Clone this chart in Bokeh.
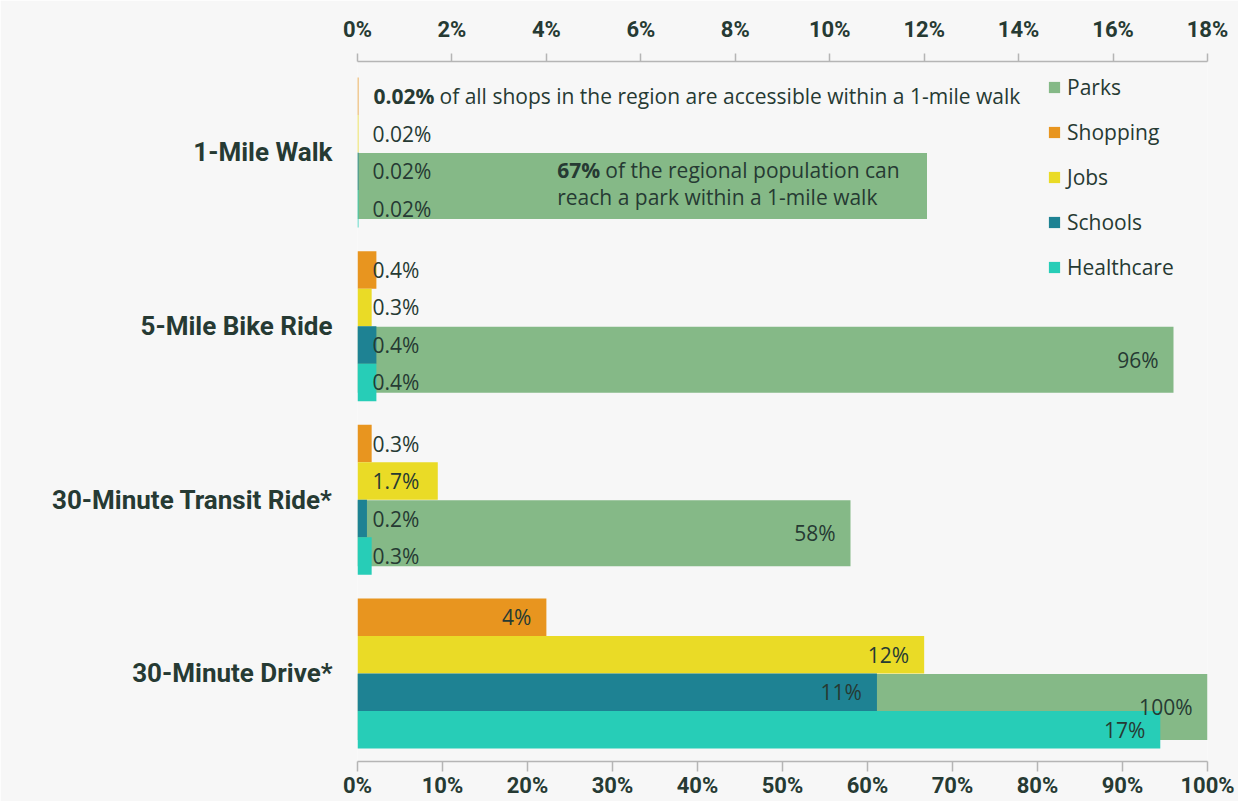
from bokeh.plotting import figure
from bokeh.models import (Range1d, LinearAxis, FixedTicker, PrintfTickFormatter,
                          ColumnDataSource, Legend, LegendItem)
from bokeh.embed import file_html
from bokeh.resources import INLINE
from bokeh.core.properties import value

# ---------------- data ----------------
categories = ["1-Mile Walk", "5-Mile Bike Ride", "30-Minute Transit Ride*", "30-Minute Drive*"]
parks = [67, 96, 58, 100]            # % of regional population (bottom axis, 0-100%)
shopping = [0.02, 0.4, 0.3, 4]       # % of regional destinations (top axis, 0-18%)
jobs = [0.02, 0.3, 1.7, 12]
schools = [0.02, 0.4, 0.2, 11]
healthcare = [0.02, 0.4, 0.3, 17]
parks_labels = ["", "96%", "58%", "100%"]
shopping_labels = ["", "0.4%", "0.3%", "4%"]
jobs_labels = ["0.02%", "0.3%", "1.7%", "12%"]
schools_labels = ["0.02%", "0.4%", "0.2%", "11%"]
healthcare_labels = ["0.02%", "0.4%", "0.3%", "17%"]
top_ticks = [0, 2, 4, 6, 8, 10, 12, 14, 16, 18]
bottom_ticks = [0, 10, 20, 30, 40, 50, 60, 70, 80, 90, 100]
note_shop_bold = "0.02%"
note_shop_rest = "of all shops in the region are accessible within a 1-mile walk"
note_park_bold = "67%"
note_park_rest1 = "of the regional population can"
note_park_rest2 = "reach a park within a 1-mile walk"

# ---------------- styling ----------------
C_PARKS = "#85b987"
C_SHOP = "#e8951f"
C_JOBS = "#eadb26"
C_SCHOOL = "#1e8293"
C_HEALTH = "#27cdb7"
TXT = "#263a33"
BG = "#f7f7f7"
LABEL_FONT = value("Open Sans")
FS = "21px"

n = len(categories)
ypos = [n - 1 - i for i in range(n)]   # Walk at top

SUB_H = 0.216
offsets = {"shop": 0.324, "jobs": 0.108, "school": -0.108, "health": -0.324}
PARK_OFF = -0.193
PARK_H = 0.38

p = figure(width=1238, height=801, output_backend="svg", toolbar_location=None,
           x_range=Range1d(0, 100), y_range=Range1d(-0.507, 3.524))
p.extra_x_ranges = {"top": Range1d(0, 18)}
p.min_border = 0
p.min_border_left = 357
p.min_border_right = 31
p.min_border_top = 61
p.min_border_bottom = 40
p.background_fill_color = BG
p.border_fill_color = BG
p.outline_line_color = None
p.xgrid.grid_line_color = None
p.ygrid.grid_line_color = None

# parks bars (bottom axis scale)
park_src = ColumnDataSource(dict(y=[v + PARK_OFF for v in ypos], right=parks,
                                 lab=parks_labels))
r_parks = p.hbar(y="y", left=0, right="right", height=PARK_H, source=park_src,
                 fill_color=C_PARKS, line_color=None)

series = [("shop", shopping, shopping_labels, C_SHOP, "Shopping"),
          ("jobs", jobs, jobs_labels, C_JOBS, "Jobs"),
          ("school", schools, schools_labels, C_SCHOOL, "Schools"),
          ("health", healthcare, healthcare_labels, C_HEALTH, "Healthcare")]

renderers = {}
label_small = dict(x=[], y=[], t=[])
label_big = dict(x=[], y=[], t=[])
for key, vals, labs, col, name in series:
    ys = [v + offsets[key] for v in ypos]
    src = ColumnDataSource(dict(y=ys, right=vals))
    renderers[name] = p.hbar(y="y", left=0, right="right", height=SUB_H, source=src,
                             fill_color=col, line_color=None, x_range_name="top")
    for yy, vv, ll in zip(ys, vals, labs):
        if not ll:
            continue
        if vv < 2:
            label_small["x"].append(0); label_small["y"].append(yy); label_small["t"].append(ll)
        else:
            label_big["x"].append(vv); label_big["y"].append(yy); label_big["t"].append(ll)

p.text(x="x", y="y", text="t", source=ColumnDataSource(label_small), x_range_name="top",
       x_offset=15, text_align="left", text_baseline="middle", text_color=TXT,
       text_font=LABEL_FONT, text_font_size=FS)
p.text(x="x", y="y", text="t", source=ColumnDataSource(label_big), x_range_name="top",
       x_offset=-15, text_align="right", text_baseline="middle", text_color=TXT,
       text_font=LABEL_FONT, text_font_size=FS)

# parks value labels
pl = dict(x=[], y=[], t=[])
for yy, vv, ll in zip(park_src.data["y"], parks, parks_labels):
    if ll:
        pl["x"].append(vv); pl["y"].append(yy); pl["t"].append(ll)
p.text(x="x", y="y", text="t", source=ColumnDataSource(pl), x_offset=-15,
       text_align="right", text_baseline="middle", text_color=TXT,
       text_font=LABEL_FONT, text_font_size=FS)

# annotations
walk_y = ypos[0]
shop_y = walk_y + offsets["shop"]
p.text(x=[0], y=[shop_y], text=[note_shop_bold], x_range_name="top", x_offset=16,
       text_align="left", text_baseline="middle", text_color=TXT, text_font=LABEL_FONT,
       text_font_size=FS, text_font_style="bold")
p.text(x=[0], y=[shop_y], text=[note_shop_rest], x_range_name="top", x_offset=82,
       text_align="left", text_baseline="middle", text_color=TXT, text_font=LABEL_FONT,
       text_font_size=FS)
note_x = 23.5
p.text(x=[note_x], y=[walk_y - 0.098], text=[note_park_bold], text_align="left",
       text_baseline="middle", text_color=TXT, text_font=LABEL_FONT,
       text_font_size=FS, text_font_style="bold")
p.text(x=[note_x], y=[walk_y - 0.098], text=[note_park_rest1], x_offset=48,
       text_align="left", text_baseline="middle", text_color=TXT, text_font=LABEL_FONT,
       text_font_size=FS)
p.text(x=[note_x], y=[walk_y - 0.259], text=[note_park_rest2], text_align="left",
       text_baseline="middle", text_color=TXT, text_font=LABEL_FONT,
       text_font_size=FS)

# axes
def style_x(ax, ticks, tick_out, standoff):
    ax.ticker = FixedTicker(ticks=ticks)
    ax.formatter = PrintfTickFormatter(format="%d%%")
    ax.axis_line_color = "#b5b5b5"
    ax.axis_line_width = 1.5
    ax.major_tick_line_color = "#b5b5b5"
    ax.major_tick_line_width = 1.5
    ax.major_tick_in = 0
    ax.major_tick_out = tick_out
    ax.minor_tick_line_color = None
    ax.major_label_text_color = TXT
    ax.major_label_text_font = "Roboto"
    ax.major_label_text_font_style = "bold"
    ax.major_label_text_font_size = "22px"
    ax.major_label_standoff = standoff

style_x(p.xaxis[0], bottom_ticks, 10, 1)
top_axis = LinearAxis(x_range_name="top")
style_x(top_axis, top_ticks, 8, 12)
p.add_layout(top_axis, "above")

yax = p.yaxis[0]
yax.ticker = FixedTicker(ticks=ypos)
yax.major_label_overrides = {y: c for y, c in zip(ypos, categories)}
yax.axis_line_color = None
yax.major_tick_line_color = None
yax.minor_tick_line_color = None
yax.major_tick_out = 0
yax.major_tick_in = 0
yax.major_label_standoff = 25
yax.major_label_text_color = TXT
yax.major_label_text_font = "Roboto"
yax.major_label_text_font_style = "bold"
yax.major_label_text_font_size = "26px"

legend = Legend(items=[LegendItem(label="Parks", renderers=[r_parks])] +
                [LegendItem(label=s[4], renderers=[renderers[s[4]]]) for s in series],
                location=(680, 470))
legend.background_fill_alpha = 0
legend.border_line_alpha = 0
legend.glyph_width = 14
legend.glyph_height = 14
legend.label_height = 20
legend.spacing = 17
legend.padding = 10
legend.label_standoff = 6
legend.label_text_font = "Open Sans"
legend.label_text_font_size = FS
legend.label_text_color = TXT
p.add_layout(legend, "center")

open("out.html", "w").write(file_html(p, INLINE))
